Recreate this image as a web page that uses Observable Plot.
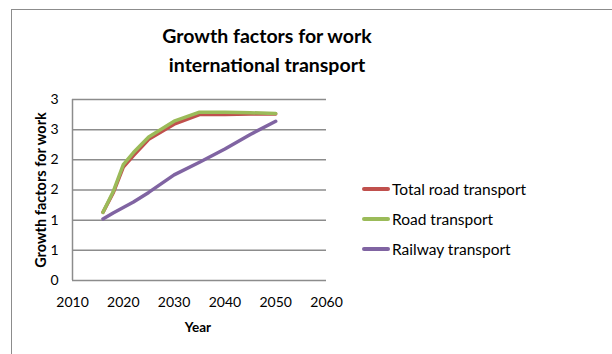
<!DOCTYPE html>
<html><head><meta charset="utf-8">
<script src="https://cdn.jsdelivr.net/npm/d3@7"></script>
<script src="https://cdn.jsdelivr.net/npm/@observablehq/plot@0.6"></script>
<style>
body{margin:0;background:#fff;font-family:Lato,"Liberation Sans",sans-serif;}
#wrap{position:relative;width:612px;height:354px;overflow:hidden;background:#fff;}
#frame{position:absolute;left:11px;top:9px;width:700px;height:400px;border:1.5px solid #8c8c8c;}
#title{position:absolute;left:0;width:534px;top:21px;text-align:center;font-weight:bold;font-size:19.5px;line-height:29px;color:#000;}
#chart{position:absolute;left:0;top:0;}
#ylab{position:absolute;left:40px;top:190px;transform:translate(-50%,-50%) rotate(-90deg);white-space:nowrap;font-weight:bold;font-size:14.5px;color:#000;}
#xlab{position:absolute;left:198px;top:327px;transform:translate(-50%,-50%);font-weight:bold;font-size:13.5px;color:#000;}
#legend{position:absolute;left:362px;top:174px;font-size:15.5px;color:#000;}
.row{display:flex;align-items:center;height:30px;}
.sw{width:28px;height:4px;border-radius:2px;margin-right:2px;}
</style>
</head><body>
<div id="wrap">
<div id="frame"></div>
<div id="title">Growth factors for work<br>international transport</div>
<div id="chart"></div>
<div id="ylab">Growth factors for work</div>
<div id="xlab">Year</div>
<div id="legend"></div>
</div>
<script>
const years = [2016, 2018, 2020, 2022, 2025, 2030, 2035, 2040, 2045, 2050];
const totalRoad = [1.13, 1.45, 1.88, 2.07, 2.34, 2.59, 2.75, 2.75, 2.76, 2.76];
const road = [1.13, 1.47, 1.92, 2.12, 2.38, 2.64, 2.79, 2.79, 2.78, 2.77];
const railway = [1.02, 1.12, 1.21, 1.30, 1.46, 1.75, 1.96, 2.18, 2.42, 2.64];
const seriesNames = ["Total road transport", "Road transport", "Railway transport"];
const seriesColors = ["#c0504d", "#9bbb59", "#8064a2"];
const xTicks = [2010, 2020, 2030, 2040, 2050, 2060];
const yTicks = [0, 0.5, 1, 1.5, 2, 2.5, 3];
const yTickLabels = ["0", "1", "1", "2", "2", "3", "3"];

const seriesValues = [totalRoad, road, railway];
const data = [];
seriesNames.forEach((name, i) => years.forEach((yr, j) => data.push({series: name, year: yr, value: seriesValues[i][j]})));

const chart = Plot.plot({
  width: 612, height: 354,
  marginLeft: 72, marginRight: 286, marginTop: 99, marginBottom: 74,
  style: {fontFamily: "Lato, 'Liberation Sans', sans-serif", background: "transparent", color: "#000"},
  x: {domain: [2010, 2060]},
  y: {domain: [0, 3]},
  color: {domain: seriesNames, range: seriesColors},
  marks: [
    Plot.gridY(yTicks, {stroke: "#8c8c8c", strokeOpacity: 1, strokeWidth: 1.5}),
    Plot.ruleX([2010], {y1: 0, y2: 3, stroke: "#8c8c8c", strokeWidth: 1.5}),
    Plot.line(data, {x: "year", y: "value", z: "series", stroke: "series", strokeWidth: 3.5, strokeLinejoin: "round", strokeLinecap: "round"}),
    Plot.axisY(yTicks, {tickSize: 0, tickPadding: 14, fontSize: 14, label: null, tickFormat: (d) => yTickLabels[yTicks.indexOf(d)], fill: "#000"}),
    Plot.axisX(xTicks, {tickSize: 0, tickPadding: 17, fontSize: 14, label: null, tickFormat: d => String(d), fill: "#000"})
  ]
});
document.getElementById("chart").appendChild(chart);

const legend = document.getElementById("legend");
seriesNames.forEach((name, i) => {
  const row = document.createElement("div");
  row.className = "row";
  const sw = document.createElement("div");
  sw.className = "sw";
  sw.style.background = seriesColors[i];
  const t = document.createElement("span");
  t.textContent = name;
  row.appendChild(sw); row.appendChild(t);
  legend.appendChild(row);
});
</script>
</body></html>
